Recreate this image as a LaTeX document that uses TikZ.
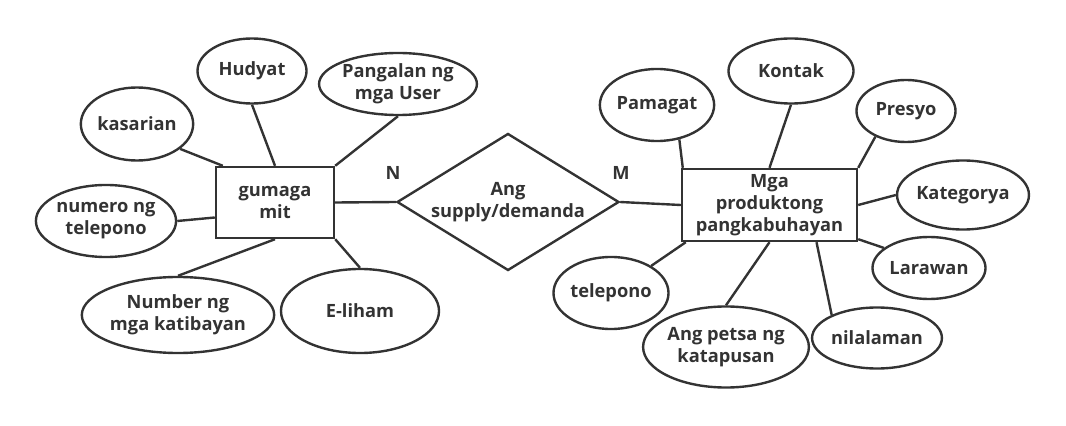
\documentclass[tikz,border=0pt]{standalone}
\usepackage{fontspec}
\setmainfont{Open Sans}
\usetikzlibrary{shapes.geometric,calc}
\definecolor{ink}{HTML}{333333}

\begin{document}
\begin{tikzpicture}[x=0.025cm, y=-0.025cm, color=ink, line width=1.7pt,
  font=\fontsize{13}{15.6}\selectfont\bfseries,
  attr/.style={draw, ellipse, inner sep=0pt, align=center},
  entity/.style={draw, rectangle, inner sep=0pt, align=center},
  rel/.style={draw, diamond, aspect=1.6, inner sep=0pt, align=center}]
\useasboundingbox (0,0) rectangle (1066,426);
% entities and relation
\node[entity, minimum width=2.95cm, minimum height=1.775cm] (gumagamit) at (275,202.5) {gumaga\\mit};
\node[rel, minimum width=5.55cm, minimum height=3.425cm] (supply) at (508,202) {Ang\\supply/demanda};
\node[entity, minimum width=4.375cm, minimum height=1.8cm] (produkto) at (769.5,205) {Mga\\produktong\\pangkabuhayan};
\node (n) at (393,173) {N};
\node (m) at (621,173) {M};
% attributes, left
\node[attr, minimum width=2.725cm, minimum height=1.625cm] (hudyat) at (252,71) {Hudyat};
\node[attr, minimum width=3.8cm, minimum height=1.55cm] (pangalan) at (398,84) {Pangalan ng\\mga User};
\node[attr, minimum width=2.8cm, minimum height=1.825cm] (kasarian) at (137,124) {kasarian};
\node[attr, minimum width=3.475cm, minimum height=1.8cm] (numero) at (106,221) {numero ng\\telepono};
\node[attr, minimum width=4.3cm, minimum height=1.9cm] (katibayan) at (178,315) {Number ng\\mga katibayan};
\node[attr, minimum width=3.95cm, minimum height=2.1cm] (eliham) at (360,311) {E-liham};
% attributes, right
\node[attr, minimum width=2.775cm, minimum height=1.8cm] (pamagat) at (657,105) {Pamagat};
\node[attr, minimum width=3.125cm, minimum height=1.625cm] (kontak) at (791,71) {Kontak};
\node[attr, minimum width=2.475cm, minimum height=1.55cm] (presyo) at (906,111) {Presyo};
\node[attr, minimum width=3.175cm, minimum height=1.725cm] (kategorya) at (963,195) {Kategorya};
\node[attr, minimum width=2.825cm, minimum height=1.55cm] (larawan) at (929,268) {Larawan};
\node[attr, minimum width=3.225cm, minimum height=1.525cm] (nilalaman) at (877,338) {nilalaman};
\node[attr, minimum width=4.075cm, minimum height=2.025cm] (petsa) at (726,347) {Ang petsa ng\\katapusan};
\node[attr, minimum width=2.875cm, minimum height=1.8cm] (telepono) at (611,293) {telepono};
% connectors
\draw (kasarian.-30) -- ($(gumagamit.north west)+(8,0)$);
\draw (hudyat.south) -- (gumagamit.north);
\draw (pangalan.south) -- (gumagamit.north east);
\draw (numero.east) -- ($(gumagamit.west)+(0,15)$);
\draw (katibayan.north) -- (gumagamit.south);
\draw (eliham.north) -- (gumagamit.south east);
\draw (gumagamit.east) -- (supply.west);
\draw (supply.east) -- (produkto.west);
\draw (pamagat.-57) -- ($(produkto.north west)+(2,0)$);
\draw (kontak.south) -- (produkto.north);
\draw (presyo.-140) -- (produkto.north east);
\draw (kategorya.west) -- (produkto.east);
\draw (larawan.156) -- ($(produkto.south east)+(0,-3)$);
\draw (nilalaman.153) -- ($(produkto.south)+(47,0)$);
\draw (petsa.north) -- (produkto.south);
\draw (telepono.34) -- ($(produkto.south west)+(5,0)$);
\end{tikzpicture}
\end{document}
